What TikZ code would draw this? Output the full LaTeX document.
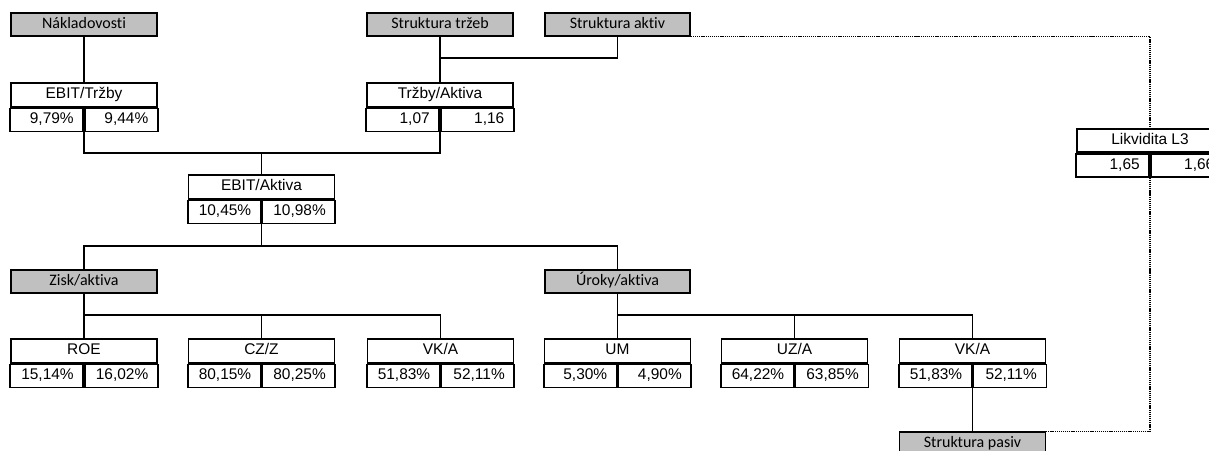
\documentclass[tikz,border=0pt]{standalone}
\usepackage{fontspec}
\setmainfont{Liberation Sans}
\newfontfamily\calibri[Ligatures=NoCommon]{Carlito}
\usepackage{tikz}
\usetikzlibrary{positioning, calc}
\definecolor{boxgray}{RGB}{192, 192, 192}

% metric box: name, x, y, title, value 1, value 2
\newcommand{\ukazatel}[6]{%
    \node[titlebox] (#1) at (#2,#3) {#4};
    \node[valbox, anchor=north east] (#1-l) at (#1.south) {#5};
    \node[valbox, anchor=north west] (#1-r) at (#1.south) {#6};
}

\begin{document}
\begin{tikzpicture}[x=0.02cm, y=-0.02cm,
    graybox/.style={draw, fill=boxgray, line width=0.9pt, minimum width=2.92cm, minimum height=0.46cm,
        inner sep=0pt, text height=6.5pt, text depth=2pt, font=\calibri\fontsize{9.1}{10}\selectfont},
    titlebox/.style={draw, line width=0.9pt, minimum width=2.92cm, minimum height=0.47cm,
        inner sep=0pt, text height=6.3pt, text depth=1.8pt, font=\fontsize{8.8}{10}\selectfont},
    valbox/.style={draw, line width=0.9pt, minimum width=1.46cm, minimum height=0.46cm,
        text width=1.08cm, align=right, inner xsep=0.19cm, inner ysep=0pt,
        text height=6.3pt, text depth=1.8pt, font=\fontsize{8.8}{10}\selectfont},
    link/.style={line width=0.8pt},
    dotlink/.style={line width=0.8pt, dash pattern=on 0.7pt off 0.5pt}]

    \useasboundingbox (0,0) rectangle (1209,450);
    \clip (0,0) rectangle (1209,450);

    % Top row
    \node[graybox] (nakl) at (84,24.5) {Nákladovosti};
    \node[graybox] (trzeb) at (440,24.5) {Struktura tržeb};
    \node[graybox, minimum width=2.9cm] (aktiv) at (617.5,24.5) {Struktura aktiv};

    % Ratios
    \ukazatel{ebitt}{84}{95}{EBIT/Tržby}{9,79\%}{9,44\%}
    \ukazatel{trzby}{440}{95}{Tržby/Aktiva}{1,07}{1,16}
    \ukazatel{ebita}{261.5}{187}{EBIT/Aktiva}{10,45\%}{10,98\%}
    \ukazatel{likv}{1150}{140.5}{Likvidita L3}{1,65}{1,66}

    % Middle row
    \node[graybox] (zisk) at (84,281.5) {Zisk/aktiva};
    \node[graybox, minimum width=2.9cm] (uroky) at (617.5,281.5) {Úroky/aktiva};

    % Bottom row
    \ukazatel{roe}{84}{351}{ROE}{15,14\%}{16,02\%}
    \ukazatel{czz}{261.5}{351}{CZ/Z}{80,15\%}{80,25\%}
    \ukazatel{vka}{440.5}{351}{VK/A}{51,83\%}{52,11\%}
    \ukazatel{um}{617.5}{351}{UM}{5,30\%}{4,90\%}
    \ukazatel{uza}{794.5}{351}{UZ/A}{64,22\%}{63,85\%}
    \ukazatel{vkb}{972.5}{351}{VK/A}{51,83\%}{52,11\%}

    \node[graybox] (pasiv) at (972.5,443.5) {Struktura pasiv};

    % Junctions
    \coordinate (j1) at (440,58);
    \coordinate (j2) at (261.5,153);
    \coordinate (j3) at (261.5,246);
    \coordinate (j4) at (261.5,315);
    \coordinate (j5) at (794.5,315);

    % Connectors
    \draw[link] (nakl) -- (ebitt);
    \draw[link] (trzeb) -- (trzby);
    \draw[link] (aktiv.south) |- (j1);
    \draw[link] (ebitt-l.south east) |- (j2) -| (trzby-l.south east);
    \draw[link] (j2) -- (ebita);
    \draw[link] (ebita-l.south east) -- (j3);
    \draw[link] (zisk.north) |- (j3) -| (uroky.north);
    \draw[link] (zisk) -- (roe);
    \draw[link] (roe.north |- j4) -| (vka.north);
    \draw[link] (j4) -- (czz);
    \draw[link] (uroky) -- (um);
    \draw[link] (um.north |- j5) -| (vkb.north);
    \draw[link] (j5) -- (uza);
    \draw[link] (vkb-l.south east) -- (pasiv);

    % Dotted link
    \draw[dotlink] (aktiv.south east) -| (likv.north);
    \draw[dotlink] (likv-l.south east) |- (pasiv.north east);
\end{tikzpicture}
\end{document}
